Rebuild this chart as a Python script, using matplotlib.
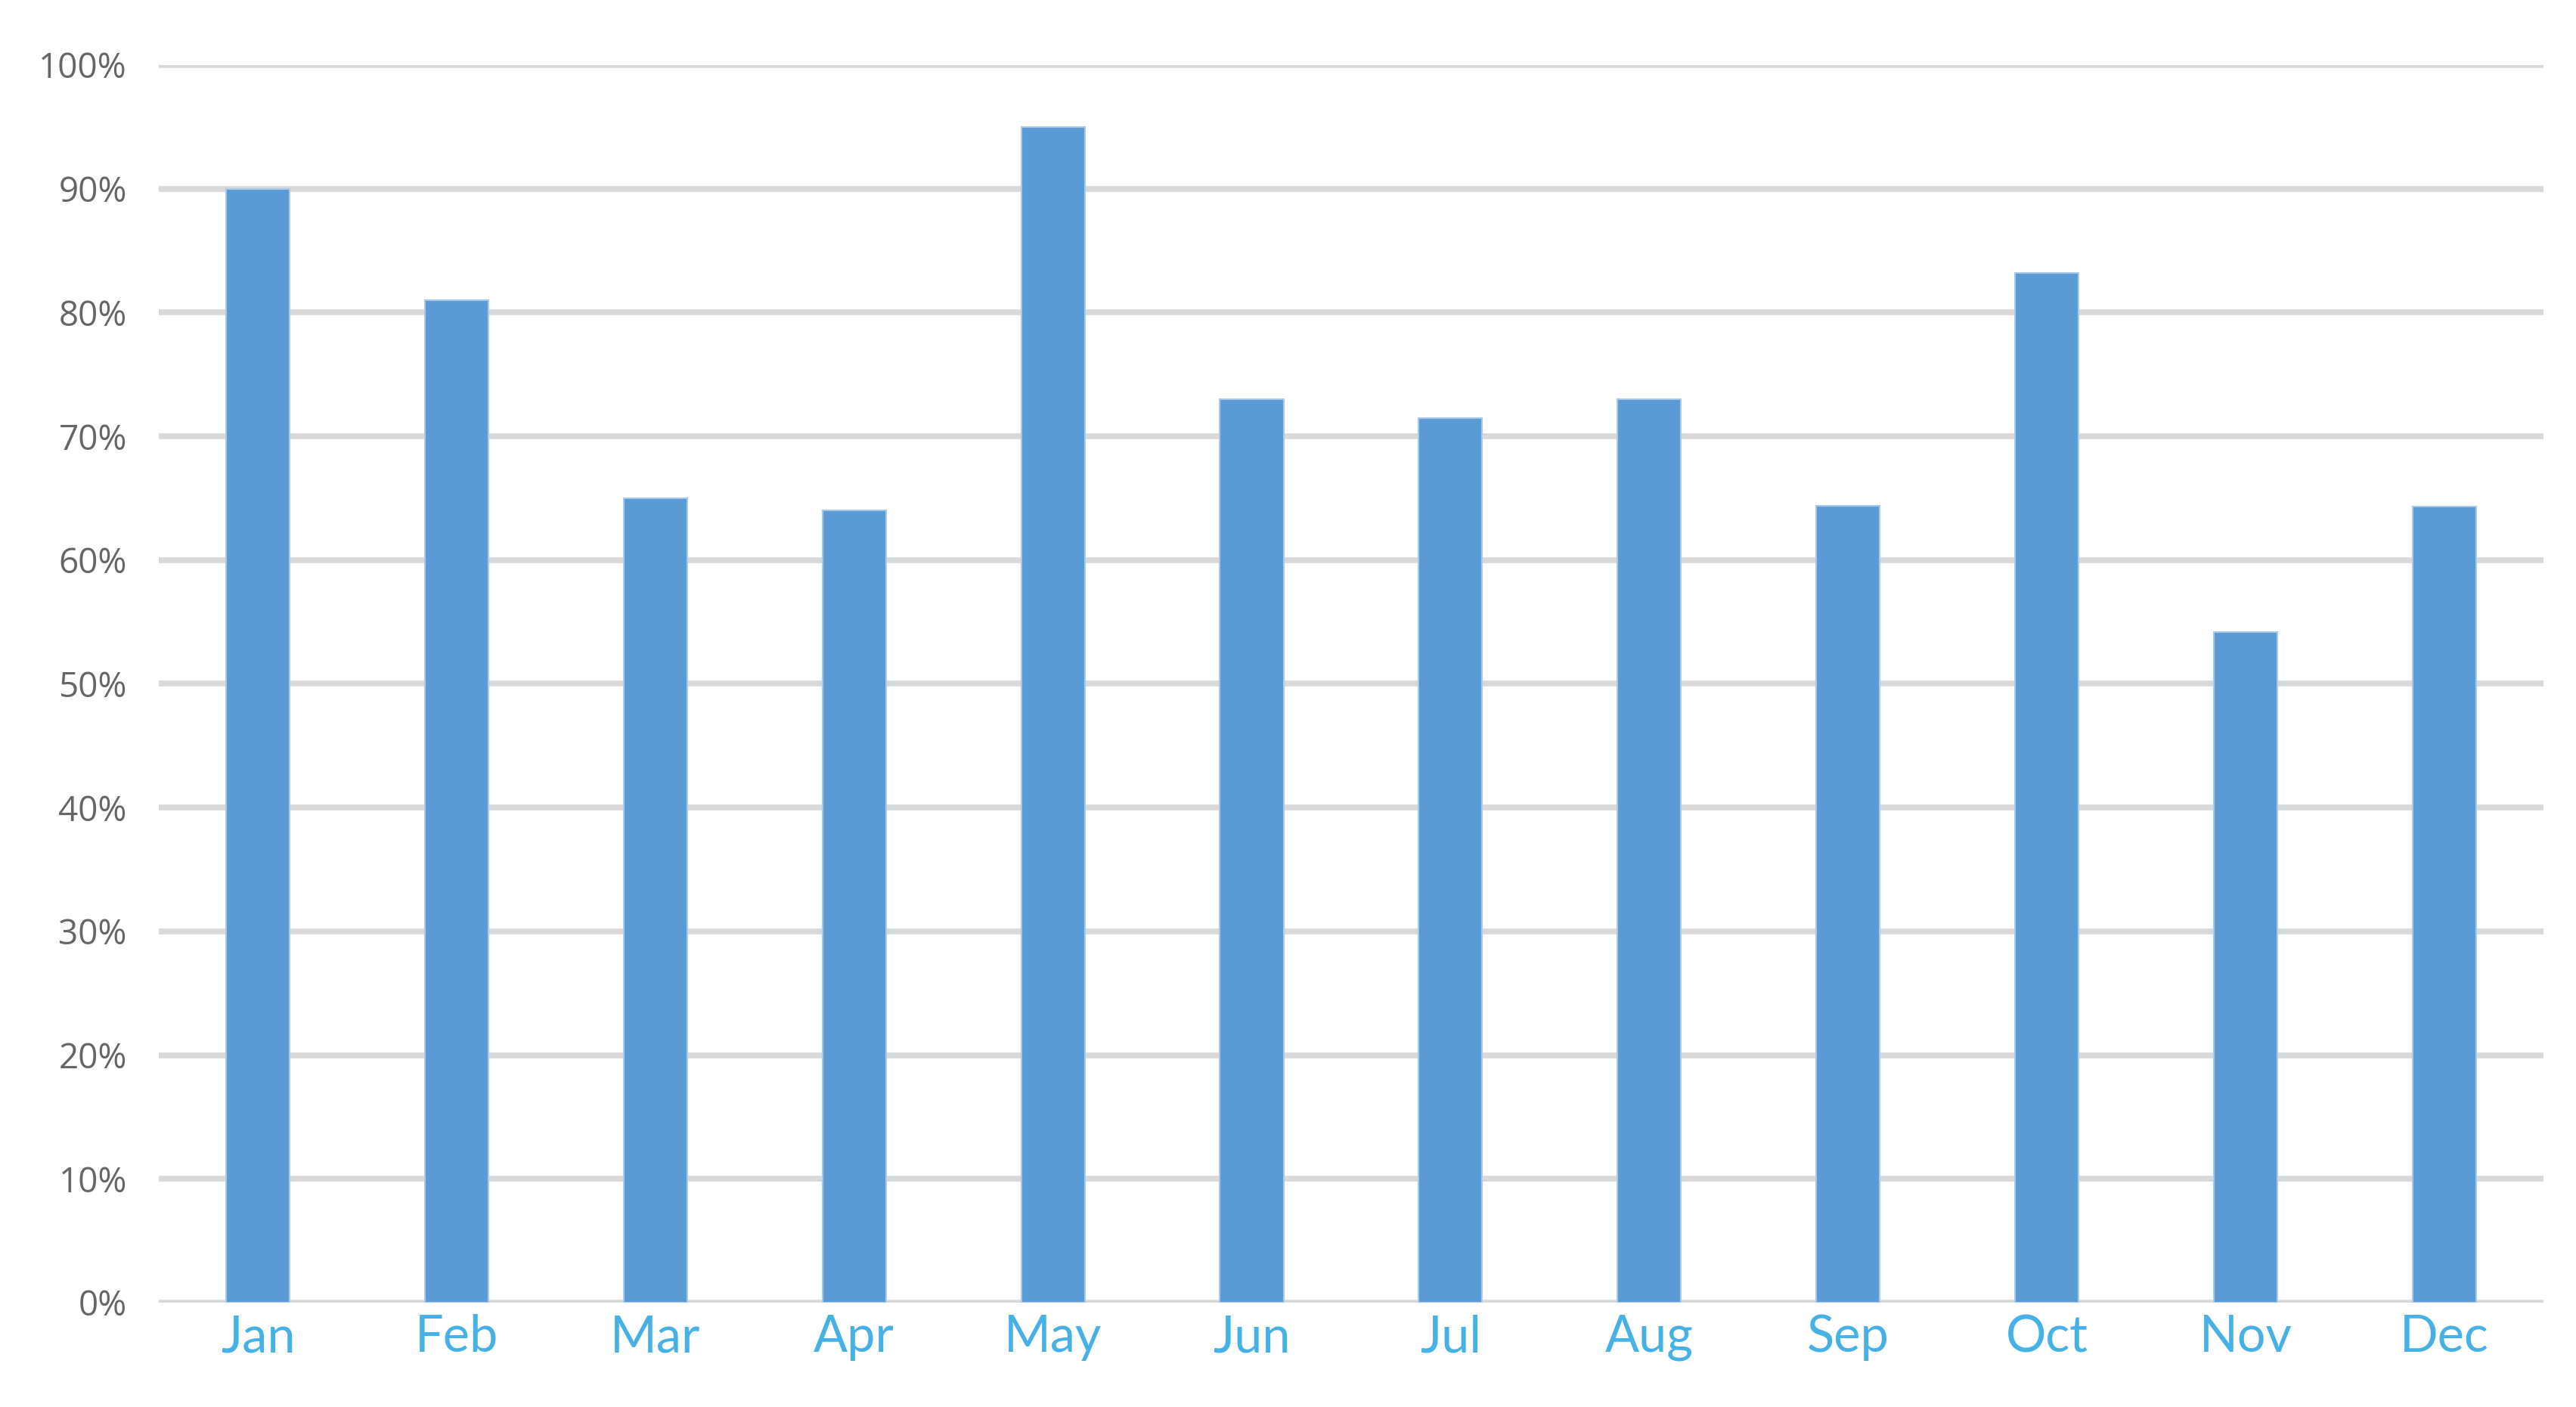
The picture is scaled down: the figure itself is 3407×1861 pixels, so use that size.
import numpy as np
import matplotlib
matplotlib.use("Agg")
import matplotlib.pyplot as plt
from matplotlib.ticker import PercentFormatter

# monthly values (percent)
months = ["Jan", "Feb", "Mar", "Apr", "May", "Jun",
          "Jul", "Aug", "Sep", "Oct", "Nov", "Dec"]
values = [90, 81, 65, 64, 95, 73, 71.5, 73, 64.4, 83.2, 54.2, 64.3]
yticks = [0, 10, 20, 30, 40, 50, 60, 70, 80, 90, 100]

fig = plt.figure(figsize=(34.07, 18.61), dpi=100)
ax = fig.add_axes([0.0615, 0.0742, 0.926, 0.8796])

x = np.arange(len(months))
ax.bar(x, values, width=0.32, color="#5b9bd5", edgecolor="#a9c9ea",
       linewidth=1.5, zorder=3)

ax.set_xlim(-0.5, 11.5)
ax.set_ylim(0, 100)
ax.set_yticks(yticks)
ax.yaxis.set_major_formatter(PercentFormatter(decimals=0))
ax.grid(axis="y", color="#d9d9d9", linewidth=5.5, zorder=0)
ax.set_axisbelow(True)

ax.set_xticks(x)
ax.set_xticklabels(months)
for lab in ax.get_xticklabels():
    lab.set_fontfamily("Lato")
    lab.set_fontsize(48)
    lab.set_color("#45b1e6")
for lab in ax.get_yticklabels():
    lab.set_fontfamily("Open Sans")
    lab.set_fontsize(33)
    lab.set_color("#666666")

ax.tick_params(axis="x", length=0, pad=11)
ax.tick_params(axis="y", length=0, pad=30)
for s in ax.spines.values():
    s.set_visible(False)

fig.savefig("out.png", dpi=100, facecolor="white")
